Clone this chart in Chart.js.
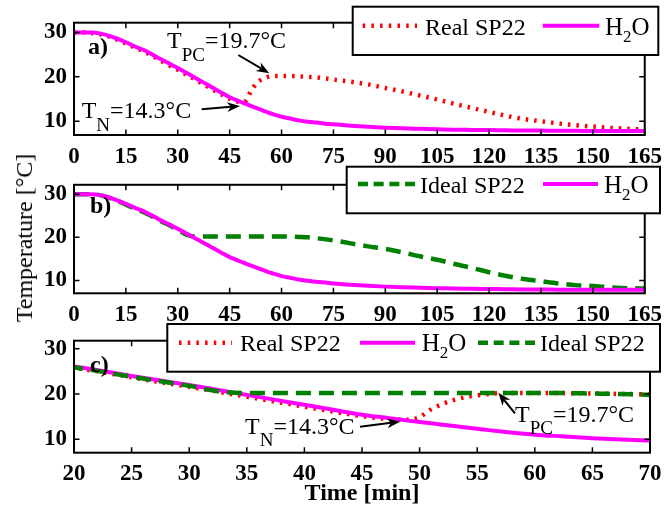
<!DOCTYPE html>
<html>
<head>
<meta charset="utf-8">
<script src="https://cdn.jsdelivr.net/npm/chart.js@4/dist/chart.umd.min.js"></script>
<style>
  html, body { margin: 0; padding: 0; background: #fff; }
  body { width: 670px; height: 514px; position: relative; overflow: hidden; }
  canvas { position: absolute; left: 0; }
  #ytitle {
    position: absolute; left: 24px; top: 238px; white-space: nowrap;
    font-family: "Liberation Serif", "Times New Roman", Tinos, serif; font-size: 24px; line-height: 1; color: #000;
    transform: translate(-50%, -50%) rotate(-90deg); z-index: 5;
  }
</style>
</head>
<body>
<canvas id="ca" width="670" height="172" style="top:0px"></canvas>
<canvas id="cb" width="670" height="172" style="top:164px"></canvas>
<canvas id="cc" width="670" height="196" style="top:318px"></canvas>
<div id="ytitle">Temperature [°C]</div>
<script>
// ---------------- data ----------------
const minutes = [0, 2.5, 5, 7.5, 10, 12.5, 15, 17.5, 20, 22.5,
  25, 27.5, 30, 32.5, 35, 37.5, 40, 42.5, 45, 47.5,
  49, 50, 51, 52, 53, 54, 55, 56, 57.5, 60,
  62.5, 65, 67.5, 70, 75, 80, 85, 90, 95, 100,
  105, 110, 115, 120, 125, 130, 135, 140, 145, 150,
  155, 160, 165];

const h2o = [30, 30, 30, 29.8, 29.3, 28.6, 27.8, 26.9, 26.1, 25.1,
  24.0, 23.0, 22.0, 20.9, 19.8, 18.7, 17.6, 16.5, 15.4, 14.6,
  14.1, 13.8, 13.5, 13.2, 12.9, 12.6, 12.3, 12.0, 11.6, 11.0,
  10.6, 10.2, 9.9, 9.7, 9.3, 9.0, 8.75, 8.55, 8.4, 8.3,
  8.2, 8.1, 8.05, 8.0, 7.95, 7.9, 7.9, 7.85, 7.85, 7.8,
  7.8, 7.8, 7.8];

const realSP22 = [30, 30, 29.9, 29.6, 29.1, 28.4, 27.5, 26.6, 25.8, 24.8,
  23.7, 22.6, 21.6, 20.5, 19.4, 18.3, 17.2, 16.1, 15.1, 14.4,
  14.3, 14.9, 16.6, 17.8, 18.7, 19.3, 19.7, 20.0, 20.2, 20.2,
  20.2, 20.1, 20.0, 19.9, 19.4, 18.9, 18.3, 17.5, 16.7, 15.8,
  14.9, 13.9, 13.0, 12.1, 11.2, 10.5, 10.0, 9.5, 9.1, 8.8,
  8.5, 8.3, 8.1];

const idealSP22 = [30, 30, 30, 29.8, 29.2, 28.5, 27.6, 26.7, 25.9, 24.9,
  23.8, 22.8, 21.8, 20.6, 20.2, 20.2, 20.2, 20.2, 20.2, 20.2,
  20.2, 20.2, 20.2, 20.2, 20.2, 20.2, 20.2, 20.2, 20.2, 20.2,
  20.2, 20.1, 20.0, 19.8, 19.3, 18.6, 17.9, 17.3, 16.5, 15.6,
  14.8, 13.8, 12.9, 11.9, 11.0, 10.3, 9.8, 9.3, 8.9, 8.7,
  8.4, 8.2, 8.1];

const seriesLabels = { real: 'Real SP22', h2o: 'H_2O', ideal: 'Ideal SP22' };
const xTicksFull = [0, 15, 30, 45, 60, 75, 90, 105, 120, 135, 150, 165];
const xTicksZoom = [20, 25, 30, 35, 40, 45, 50, 55, 60, 65, 70];
const yTicks = [10, 20, 30];
const annoTexts = { tpc: 'T_{PC}=19.7°C', tn: 'T_{N}=14.3°C' };
const xTitle = 'Time [min]';

// ---------------- helpers ----------------
const FAMILY = "'Liberation Serif', 'Times New Roman', Tinos, serif";
const STYLE = {
  h2o:   { borderColor: '#ff00ff', borderWidth: 4,   borderDash: [] },
  real:  { borderColor: '#ff0000', borderWidth: 4.5, borderDash: [2.5, 6] },
  ideal: { borderColor: '#008000', borderWidth: 4.5, borderDash: [15, 8] }
};
const LEGEND_DASH = { h2o: [], real: [2.5, 6.2], ideal: [10, 5.7] };

function series(key, vals) {
  return Object.assign({
    key: key,
    label: seriesLabels[key],
    data: minutes.map((m, i) => ({ x: m, y: vals[i] })),
    pointRadius: 0,
    fill: false,
    cubicInterpolationMode: 'monotone',
    borderCapStyle: 'butt'
  }, STYLE[key]);
}

function drawRich(ctx, str, x, y, size, subSize, subDy, weight) {
  const parts = [];
  const re = /_\{([^}]*)\}|_(.)/g;
  let last = 0, m;
  while ((m = re.exec(str))) {
    if (m.index > last) parts.push({ t: str.slice(last, m.index) });
    parts.push({ t: m[1] || m[2], sub: true });
    last = re.lastIndex;
  }
  if (last < str.length) parts.push({ t: str.slice(last) });
  ctx.textBaseline = 'alphabetic';
  ctx.textAlign = 'left';
  ctx.fillStyle = '#000';
  for (const p of parts) {
    ctx.font = (weight || 'normal') + ' ' + (p.sub ? subSize : size) + 'px ' + FAMILY;
    ctx.fillText(p.t, x, p.sub ? y + subDy : y);
    x += ctx.measureText(p.t).width;
  }
}

function arrow(ctx, x0, y0, x1, y1) {
  const ang = Math.atan2(y1 - y0, x1 - x0);
  const L = 13, W = 5;
  ctx.save();
  ctx.strokeStyle = '#000'; ctx.fillStyle = '#000'; ctx.lineWidth = 2;
  ctx.setLineDash([]);
  ctx.beginPath();
  ctx.moveTo(x0, y0);
  ctx.lineTo(x1 - Math.cos(ang) * L * 0.7, y1 - Math.sin(ang) * L * 0.7);
  ctx.stroke();
  ctx.translate(x1, y1); ctx.rotate(ang);
  ctx.beginPath();
  ctx.moveTo(0, 0);
  ctx.lineTo(-L, -W);
  ctx.lineTo(-L * 0.7, 0);
  ctx.lineTo(-L, W);
  ctx.closePath();
  ctx.fill();
  ctx.restore();
}

// frame with inward ticks (MATLAB box style)
const framePlugin = {
  id: 'frame',
  afterDatasetsDraw(chart) {
    const { ctx, chartArea: a, scales } = chart;
    ctx.save();
    ctx.strokeStyle = '#000';
    ctx.setLineDash([]);
    ctx.lineWidth = 1.5;
    const tl = 5.5;
    ctx.beginPath();
    scales.x.ticks.forEach(t => {
      const px = scales.x.getPixelForValue(t.value);
      ctx.moveTo(px, a.bottom); ctx.lineTo(px, a.bottom - tl);
      ctx.moveTo(px, a.top); ctx.lineTo(px, a.top + tl);
    });
    scales.y.ticks.forEach(t => {
      const py = scales.y.getPixelForValue(t.value);
      ctx.moveTo(a.left, py); ctx.lineTo(a.left + tl, py);
      ctx.moveTo(a.right, py); ctx.lineTo(a.right - tl, py);
    });
    ctx.stroke();
    ctx.lineWidth = 2;
    ctx.strokeRect(a.left, a.top, a.right - a.left, a.bottom - a.top);
    ctx.restore();
  },
  afterDraw(chart) {
    const o = chart.options.plugins.frame || {};
    const ctx = chart.ctx;
    ctx.save();
    if (o.panel) {
      ctx.font = 'bold 24px ' + FAMILY;
      ctx.fillStyle = '#000';
      ctx.textBaseline = 'alphabetic'; ctx.textAlign = 'left';
      ctx.fillText(o.panel.text, o.panel.x, o.panel.y);
    }
    (o.texts || []).forEach(t => drawRich(ctx, t.text, t.x, t.y, 24, 19, 12.4));
    (o.arrows || []).forEach(r => arrow(ctx, r[0], r[1], r[2], r[3]));
    if (o.legend) {
      const L = o.legend;
      ctx.fillStyle = '#fff';
      ctx.fillRect(L.box[0], L.box[1], L.box[2] - L.box[0], L.box[3] - L.box[1]);
      ctx.strokeStyle = '#000'; ctx.lineWidth = 2; ctx.setLineDash([]);
      ctx.strokeRect(L.box[0], L.box[1], L.box[2] - L.box[0], L.box[3] - L.box[1]);
      L.items.forEach(it => {
        const ds = chart.data.datasets.find(d => d.key === it.key);
        ctx.save();
        ctx.strokeStyle = ds.borderColor;
        ctx.lineWidth = ds.borderWidth;
        ctx.lineCap = 'butt';
        ctx.setLineDash(LEGEND_DASH[it.key]);
        ctx.beginPath();
        ctx.moveTo(it.x0, L.lineY); ctx.lineTo(it.x1, L.lineY);
        ctx.stroke();
        ctx.restore();
        if (it.key === 'h2o') drawRich(ctx, ds.label, it.tx, L.textY, 25, 17, 7);
        else drawRich(ctx, ds.label, it.tx, L.textY, 24, 18, 7);
      });
    }
    ctx.restore();
  }
};

function makeChart(id, cfg) {
  const tickFont = { family: FAMILY, size: 23, weight: 'bold' };
  const xScale = {
    type: 'linear', min: cfg.xmin, max: cfg.xmax,
    afterBuildTicks: s => { s.ticks = cfg.xticks.map(v => ({ value: v })); },
    afterFit: s => { s.height = cfg.xAxisH; },
    grid: { display: false, drawTicks: false },
    border: { display: false },
    ticks: { font: tickFont, color: '#000', padding: 8, maxRotation: 0, autoSkip: false }
  };
  if (cfg.xTitle) {
    xScale.title = { display: true, text: cfg.xTitle, color: '#000',
      font: { family: FAMILY, size: 24, weight: 'bold' }, padding: { top: 0, bottom: 6 } };
  }
  return new Chart(document.getElementById(id), {
    type: 'line',
    data: { datasets: cfg.datasets },
    options: {
      responsive: false,
      maintainAspectRatio: false,
      animation: false,
      layout: { padding: { top: cfg.padTop, right: 20, left: 0, bottom: 0 } },
      scales: {
        x: xScale,
        y: {
          min: cfg.ymin, max: cfg.ymax,
          afterBuildTicks: s => { s.ticks = yTicks.map(v => ({ value: v })); },
          afterFit: s => { s.width = 74; },
          grid: { display: false, drawTicks: false },
          border: { display: false },
          ticks: { font: tickFont, color: '#000', padding: 7 }
        }
      },
      plugins: {
        legend: { display: false },
        tooltip: { enabled: false },
        frame: cfg.frame
      }
    },
    plugins: [framePlugin]
  });
}

function build() {
  Chart.defaults.font.family = FAMILY;
  makeChart('ca', {
    datasets: [series('h2o', h2o), series('real', realSP22)],
    xmin: 0, xmax: 165, xticks: xTicksFull, ymin: 6.9, ymax: 32.2,
    padTop: 22.7, xAxisH: 37,
    frame: {
      panel: { text: 'a)', x: 88, y: 54 },
      texts: [{ text: annoTexts.tpc, x: 167, y: 48.3 }, { text: annoTexts.tn, x: 81.7, y: 118.3 }],
      arrows: [[238.3, 55, 269.3, 73.3], [201.7, 109.3, 240, 106]],
      legend: { box: [352.7, 6.7, 658.3, 55], lineY: 25.7, textY: 35,
        items: [{ key: 'real', x0: 362.7, x1: 417, tx: 425 }, { key: 'h2o', x0: 542.7, x1: 599.3, tx: 605 }] }
    }
  });
  makeChart('cb', {
    datasets: [series('h2o', h2o), series('ideal', idealSP22)],
    xmin: 0, xmax: 165, xticks: xTicksFull, ymin: 7, ymax: 32.2,
    padTop: 16.7, xAxisH: 42.7,
    frame: {
      panel: { text: 'b)', x: 90, y: 48.7 },
      legend: { box: [346.7, 2.7, 660, 49.3], lineY: 20, textY: 29.3,
        items: [{ key: 'ideal', x0: 358, x1: 415, tx: 420 }, { key: 'h2o', x0: 543, x1: 598, tx: 604 }] }
    }
  });
  makeChart('cc', {
    datasets: [series('ideal', idealSP22), series('h2o', h2o), series('real', realSP22)],
    xmin: 20, xmax: 70, xticks: xTicksZoom, ymin: 7, ymax: 31.8,
    padTop: 22.7, xAxisH: 61.3, xTitle: xTitle,
    frame: {
      panel: { text: 'c)', x: 90, y: 53.7 },
      texts: [{ text: annoTexts.tn, x: 245, y: 116 }, { text: annoTexts.tpc, x: 515, y: 103.7 }],
      arrows: [[360, 108.7, 400, 103.7], [515, 95.3, 498.3, 74.7]],
      legend: { box: [167.3, 6, 660, 53.7], lineY: 24.7, textY: 32.7,
        items: [{ key: 'real', x0: 179, x1: 232, tx: 240 }, { key: 'h2o', x0: 360, x1: 415, tx: 421.7 },
                { key: 'ideal', x0: 478, x1: 535, tx: 540 }] }
    }
  });
}

if (document.fonts && document.fonts.load) {
  Promise.all([
    document.fonts.load('24px "Liberation Serif"'),
    document.fonts.load('bold 24px "Liberation Serif"')
  ]).then(build, build);
} else {
  build();
}
</script>
</body>
</html>
